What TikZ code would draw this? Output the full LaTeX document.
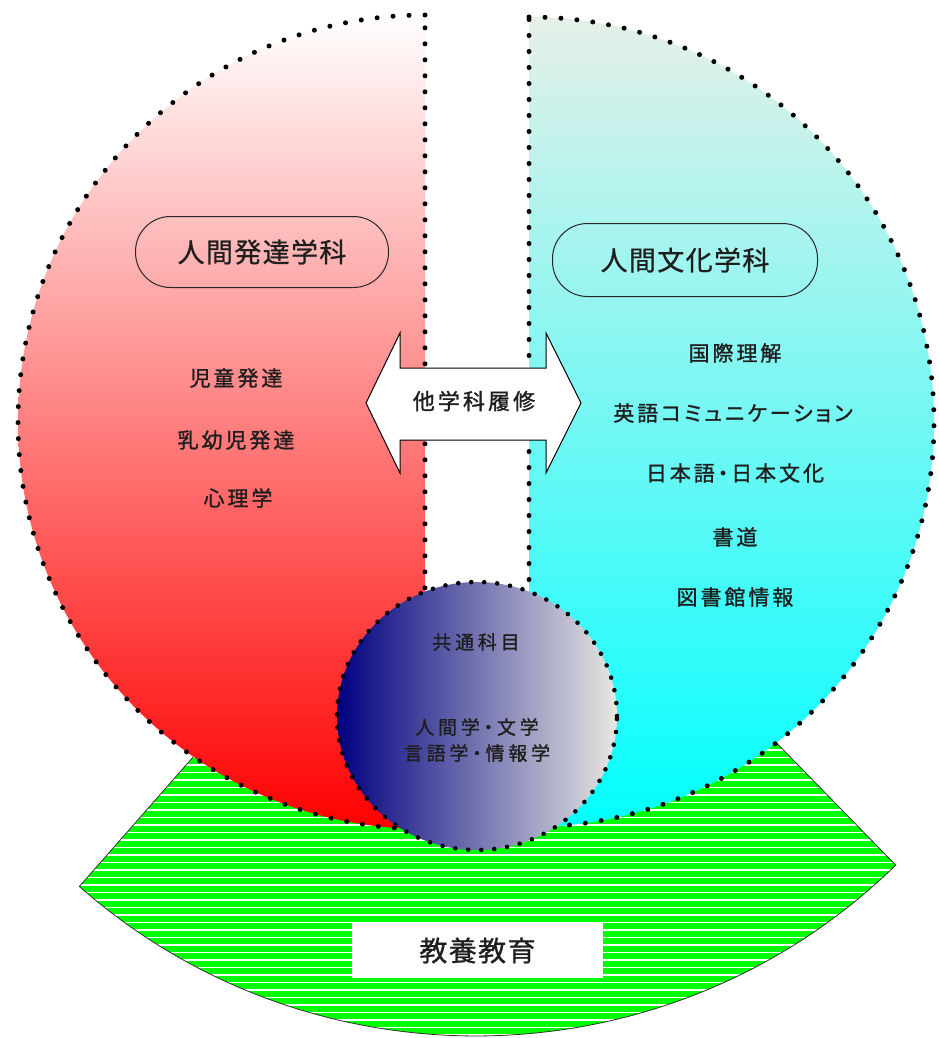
\documentclass[tikz,border=0pt]{standalone}
\usepackage{fontspec}
\setmainfont{Noto Sans CJK JP}
\newfontfamily\jpitem[RawFeature={+palt},LetterSpace=14,FakeBold=1.2]{Noto Sans CJK JP}
\newfontfamily\jphead[RawFeature={+palt},LetterSpace=5,FakeBold=0.8]{Noto Sans CJK JP}
\newfontfamily\jpcirc[RawFeature={+palt},LetterSpace=20,FakeBold=1.2]{Noto Sans CJK JP}
\definecolor{txt}{RGB}{30,30,30}
\definecolor{navyc}{RGB}{0,0,128}
\definecolor{lgrayc}{RGB}{232,232,226}
\definecolor{paletop}{RGB}{230,240,232}
\definecolor{grn}{RGB}{0,255,0}
\tikzset{
  dotline/.style={black, line width=5pt, line cap=round, dash pattern=on 0pt off 16pt},
  dotsmall/.style={black, line width=4.6pt, line cap=round, dash pattern=on 0pt off 13pt},
  pill/.style={draw=black!85, line width=1pt, rounded corners=35pt, inner sep=0pt,
    text=txt, font={\jphead\fontsize{27pt}{30pt}\selectfont}},
  item/.style={inner sep=0pt, text=txt, font={\jpitem\fontsize{21pt}{24pt}\selectfont}},
  circtext/.style={inner sep=0pt, text=txt, align=center, font={\jpcirc\fontsize{19pt}{26pt}\selectfont}},
}
\begin{document}
\begin{tikzpicture}[x=1pt,y=1pt]
\useasboundingbox (0,0) rectangle (938,-1038);
% green block arc
\coordinate (G) at (476,-435);
\def\greenpath{([shift={(228.7:400pt)}]G) arc[start angle=228.7,end angle=314.3,radius=400pt]
  -- ([shift={(314.3:601pt)}]G) arc[start angle=314.3,end angle=228.7,radius=601pt] -- cycle}
\fill[grn] \greenpath;
\begin{scope}
  \clip \greenpath;
  \foreach \k in {0,...,45}
    \draw[white, line width=1.3pt] (60,{-742.5-7.5*\k}) -- (920,{-742.5-7.5*\k});
\end{scope}
\draw[black!80, line width=0.8pt] ([shift={(228.7:400pt)}]G) -- ([shift={(228.7:601pt)}]G)
  arc[start angle=228.7,end angle=314.3,radius=601pt] -- ([shift={(314.3:400pt)}]G);
% left half (red)
\path[top color=white, bottom color=red] (425,-15) arc[start angle=90,end angle=270,radius=407pt] -- cycle;
\draw[dotline] (425,-15) arc[start angle=90,end angle=270,radius=407pt] -- cycle;
% right half (cyan)
\path[top color=paletop, bottom color=cyan] (529,-17) arc[start angle=90,end angle=-90,radius=405pt] -- cycle;
\draw[dotline] (529,-17) arc[start angle=90,end angle=-90,radius=405pt] -- cycle;
% common circle
\path[left color=navyc, right color=lgrayc] (477,-716) ellipse [x radius=140pt, y radius=134pt];
\draw[dotsmall] (477,-716) ellipse [x radius=140pt, y radius=134pt];
% double arrow
\draw[fill=white, line width=1pt] (366,-403) -- (400,-333) -- (400,-368) -- (546,-368) -- (546,-333)
  -- (581,-403) -- (546,-473) -- (546,-440) -- (400,-440) -- (400,-473) -- cycle;
\node[item, font={\jpitem\fontsize{22pt}{24pt}\selectfont}] (arrowtxt) at (474,-401) {他学科履修};
% department labels
\node[pill, minimum width=253pt, minimum height=71pt] (dev) at (262,-252) {人間発達学科};
\node[pill, minimum width=265pt, minimum height=73pt] (cul) at (685,-260) {人間文化学科};
% left items
\node[item] (l1) at (236,-378) {児童発達};
\node[item] (l2) at (236,-440) {乳幼児発達};
\node[item] (l3) at (238,-498) {心理学};
% right items
\node[item] (r1) at (735,-353) {国際理解};
\node[item] (r2) at (733,-413) {英語コミュニケーション};
\node[item] (r3) at (735,-473) {日本語・日本文化};
\node[item] (r4) at (735,-537) {書道};
\node[item] (r5) at (735,-597) {図書館情報};
% circle texts
\node[circtext] (c1) at (476,-642) {共通科目};
\node[circtext] (c2) at (477,-740) {人間学・文学\\言語学・情報学};
% general education box
\node[fill=white, minimum width=251pt, minimum height=55pt, inner sep=0pt, text=txt,
  font={\jphead\fontsize{28pt}{30pt}\selectfont}] (gen) at (477.5,-950.5) {教養教育};
\end{tikzpicture}
\end{document}
